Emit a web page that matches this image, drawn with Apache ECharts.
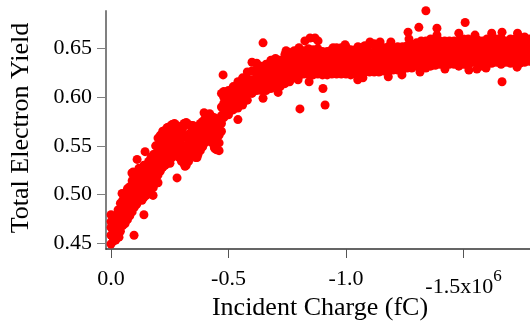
<!DOCTYPE html>
<html>
<head>
<meta charset="utf-8">
<style>html,body{margin:0;padding:0;background:#fff}#main{width:530px;height:324px}</style>
<script src="https://cdn.jsdelivr.net/npm/echarts@6/dist/echarts.min.js"></script>
</head>
<body>
<div id="main"></div>
<script>
// charge in units of 1e6 fC, one column of read-off yields per charge
var chargeColumns = [
  0, -0.02, -0.04, -0.06, -0.08, -0.10, -0.12, -0.14, -0.16, -0.18,
  -0.20, -0.22, -0.24, -0.26, -0.28, -0.30, -0.32, -0.34, -0.36, -0.38,
  -0.40, -0.42, -0.44, -0.46, -0.47, -0.48, -0.50, -0.52, -0.54, -0.56,
  -0.58, -0.60, -0.62, -0.64, -0.66, -0.68, -0.70, -0.72, -0.74, -0.76,
  -0.78, -0.80, -0.82, -0.84, -0.86, -0.88, -0.90, -0.92, -0.94, -0.96,
  -0.98, -1.00, -1.02, -1.04, -1.06, -1.08, -1.10, -1.12, -1.14, -1.16,
  -1.18, -1.20, -1.22, -1.24, -1.26, -1.28, -1.30, -1.32, -1.34, -1.36,
  -1.38, -1.40, -1.42, -1.44, -1.46, -1.48, -1.50, -1.52, -1.54, -1.56,
  -1.58, -1.60, -1.62, -1.64, -1.66, -1.68, -1.70, -1.72, -1.74, -1.76, -1.78
];
var yieldColumns = [
  [.449,.458,.466,.472,.479], [.453,.462,.471,.478], [.462,.470,.478,.485,.491], [.470,.477,.485,.493,.501],
  [.478,.486,.494,.501,.508], [.487,.495,.503,.512,.521], [.494,.502,.510,.518,.525], [.497,.505,.513,.522,.530],
  [.503,.510,.518,.526,.534], [.507,.515,.524,.533,.541], [.520,.530,.540,.550,.558], [.528,.536,.545,.555,.565],
  [.532,.541,.550,.560,.569], [.538,.546,.555,.564,.572], [.543,.550,.558,.565,.571], [.534,.542,.550,.558,.566],
  [.530,.540,.550,.560,.574], [.540,.548,.556,.564,.571], [.538,.546,.553,.560], [.545,.553,.561,.568,.573],
  [.553,.561,.568,.578], [.560,.566,.573,.583], [.548,.556,.564,.572,.579], [.545,.553,.561,.572],
  [.565,.573,.581,.590,.604], [.579,.586,.594,.600,.606], [.582,.589,.596,.602,.607], [.587,.593,.600,.606,.611],
  [.589,.596,.603,.610,.616], [.592,.599,.606,.613,.620], [.597,.604,.611,.619,.626], [.604,.611,.618,.627,.636],
  [.607,.614,.621,.629,.635], [.607,.613,.620,.627,.632], [.607,.614,.621,.628,.634], [.609,.616,.623,.631,.638],
  [.612,.618,.625,.633,.640], [.611,.618,.626,.633,.638], [.614,.621,.628,.636,.644], [.616,.623,.630,.638,.646],
  [.620,.627,.634,.641,.648], [.622,.629,.636,.644,.651], [.624,.630,.637,.643,.648], [.624,.631,.638,.645,.650],
  [.623,.630,.637,.644,.649], [.624,.631,.638,.644,.650], [.623,.630,.636,.642,.647], [.623,.629,.636,.642,.647],
  [.624,.631,.638,.644,.649], [.624,.630,.637,.644,.651], [.624,.631,.638,.645,.651], [.624,.631,.638,.645,.652],
  [.623,.630,.637,.644,.649], [.624,.631,.638,.644,.649], [.626,.632,.639,.645,.651], [.626,.633,.640,.646,.653],
  [.626,.632,.639,.646,.654], [.626,.633,.640,.647,.655], [.626,.632,.639,.646,.652], [.627,.633,.640,.646,.651],
  [.626,.633,.640,.647,.652], [.628,.634,.641,.647,.650], [.628,.634,.641,.648,.652], [.628,.635,.642,.648,.652],
  [.630,.636,.642,.648,.653], [.630,.637,.643,.649,.654], [.632,.638,.644,.650,.656], [.630,.637,.644,.651,.658],
  [.630,.637,.645,.652,.658], [.632,.639,.646,.653,.660], [.633,.640,.647,.654,.660], [.634,.640,.646,.652,.658],
  [.632,.639,.646,.652,.658], [.634,.640,.646,.652,.658], [.634,.641,.647,.653,.658], [.632,.639,.646,.652,.658],
  [.634,.641,.648,.654,.660], [.632,.639,.646,.653,.660], [.636,.642,.648,.654,.658], [.634,.641,.647,.653,.659],
  [.632,.639,.646,.653,.658], [.634,.641,.648,.654,.660], [.635,.641,.647,.654,.662], [.636,.642,.648,.654,.660],
  [.634,.641,.648,.655,.661], [.636,.642,.648,.654,.658], [.635,.642,.649,.655,.660], [.636,.643,.649,.655,.660],
  [.635,.642,.649,.656,.661], [.636,.643,.650,.656,.662], [.637,.643,.649,.656,.660]
];
// in-between columns for the low charge end, where the cloud is solid
var lowCharge = [-0.01, -0.03, -0.05, -0.07, -0.09, -0.11, -0.13, -0.15, -0.17, -0.19, -0.21, -0.23,
  -0.25, -0.27, -0.29, -0.31, -0.33, -0.35, -0.37, -0.39, -0.41, -0.43, -0.45];
var lowYield = [
  [.452,.462,.470], [.458,.468,.476,.484], [.468,.476,.484,.494], [.474,.482,.490,.499,.506],
  [.482,.490,.498,.507,.514], [.490,.498,.506,.515,.522], [.496,.504,.512,.520,.526], [.499,.507,.515,.523,.530],
  [.505,.513,.522,.530,.538], [.512,.522,.532,.542,.550], [.524,.533,.542,.552,.561], [.530,.539,.548,.557,.566],
  [.535,.544,.553,.562,.570], [.541,.549,.557,.566,.573], [.538,.546,.554,.562,.568], [.532,.541,.550,.559,.570],
  [.534,.544,.553,.562,.572], [.540,.548,.556,.564,.569], [.541,.550,.558,.566], [.549,.557,.565,.575],
  [.556,.563,.571,.581], [.553,.561,.569,.580], [.546,.555,.564,.575]
];
// bumps on the upper and lower edge of the cloud
var edgeCharge = [-0.843, -1.05, -1.072, -1.18, -1.238, -1.315, -1.421, -1.523, -1.557, -1.596, -1.728, -0.711, -0.796,
  -0.945, -0.996, -1.051, -1.102, -1.145, -1.191, -1.268, -1.387, -1.549,
  -0.047, -0.089, -0.055, -0.132, -0.179, -0.2, -0.217, -0.251, -0.315, -0.366, -0.434, -0.443,
  -0.094, -0.119, -0.238, -0.272, -0.311, -0.349, -0.396];
var edgeYield = [.616, .618, .620, .621, .623, .626, .629, .628, .629, .630, .631, .605, .618,
  .651, .654, .652, .657, .657, .657, .660, .664, .664,
  .501, .522, .471, .494, .499, .512, .528, .532, .529, .538, .553, .547,
  .523, .527, .568, .571, .573, .571, .584];
// stray points away from the main band
var strayCharge = [-1.34, -1.31, -1.507, -1.387, -1.264, -1.48, -1.664, -1.664, -0.804, -0.911, -0.902, -0.647, -0.477, -0.54, -0.647,
  -0.281, -0.098, -0.14, -0.111, -0.145, -0.034, -0.009, -0.825, -0.847, -0.868, -0.881, -0.745, -1.62, -1.73, -1.387];
var strayYield = [.689, .672, .677, .671, .667, .666, .667, .616, .588, .592, .609, .656, .623, .577, .599,
  .517, .458, .479, .536, .544, .456, .456, .658, .661, .661, .658, .648, .666, .666, .660];

var yTicks = [0.45, 0.50, 0.55, 0.60, 0.65];
var xTicks = [0, -0.5, -1.0, -1.5];

var points = [];
chargeColumns.forEach(function (c, i) {
  yieldColumns[i].forEach(function (v) { points.push([c, v]); });
});
lowCharge.forEach(function (c, i) {
  lowYield[i].forEach(function (v) { points.push([c, v]); });
});
edgeCharge.forEach(function (c, i) { points.push([c, edgeYield[i]]); });
strayCharge.forEach(function (c, i) { points.push([c, strayYield[i]]); });

var font = '"Liberation Serif", "Times New Roman", serif';
var myChart = echarts.init(document.getElementById('main'), null, { renderer: 'canvas' });
var option = {
  animation: false,
  backgroundColor: '#fff',
  grid: { left: 106, right: 0, top: 11, bottom: 75, outerBoundsMode: 'none' },
  xAxis: {
    type: 'value',
    inverse: true,
    min: -1.783,
    max: 0.0213,
    splitLine: { show: false },
    name: 'Incident Charge (fC)',
    nameLocation: 'middle',
    nameGap: 46,
    nameMoveOverlap: false,
    nameTextStyle: { fontFamily: font, fontSize: 26, color: '#000', padding: [0, 0, 0, 4] },
    axisLine: { onZero: false, lineStyle: { color: '#333', width: 1.5 } },
    axisTick: { length: 9, customValues: xTicks, lineStyle: { color: '#555', width: 1 } },
    axisLabel: {
      customValues: xTicks,
      margin: 19,
      fontFamily: font, fontSize: 22, color: '#000',
      formatter: function (v) {
        if (v === -1.5) return '{low|-1.5x10}{sup|6}';
        return v === 0 ? '0.0' : v.toFixed(1);
      },
      rich: {
        low: { fontFamily: font, fontSize: 22, color: '#000', padding: [8, 0, 0, 0] },
        sup: { fontFamily: font, fontSize: 17, color: '#000', verticalAlign: 'top' }
      }
    }
  },
  yAxis: {
    type: 'value',
    min: 0.4438,
    max: 0.6888,
    splitLine: { show: false },
    name: 'Total Electron Yield',
    nameLocation: 'middle',
    nameGap: 72,
    nameMoveOverlap: false,
    nameTextStyle: { fontFamily: font, fontSize: 26, color: '#000', padding: [0, 0, 0, 4] },
    axisLine: { show: true, onZero: false, lineStyle: { color: '#808080', width: 2 } },
    axisTick: { show: true, length: 9, customValues: yTicks, lineStyle: { color: '#808080', width: 1 } },
    axisLabel: {
      customValues: yTicks,
      margin: 14,
      fontFamily: font, fontSize: 22, color: '#000',
      formatter: function (v) { return v.toFixed(2); }
    }
  },
  series: [{
    type: 'scatter',
    data: points,
    symbol: 'circle',
    symbolSize: 9,
    clip: false,
    itemStyle: { color: '#ff0000', opacity: 1 }
  }]
};
myChart.setOption(option, true);
</script>
</body>
</html>
